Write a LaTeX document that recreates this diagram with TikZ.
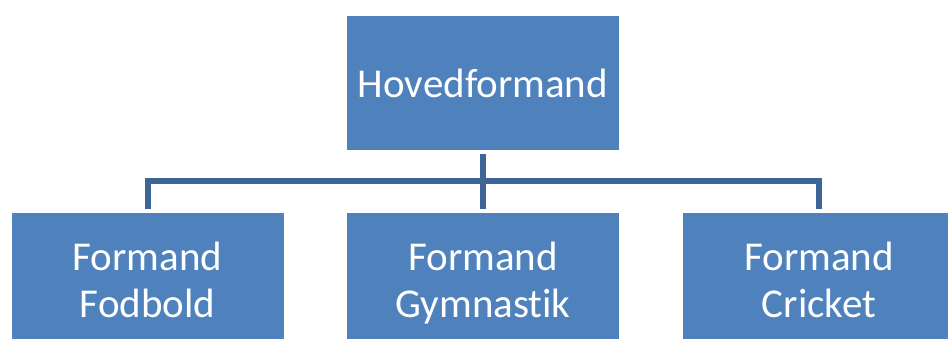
\documentclass[tikz,border=0pt]{standalone}
\usepackage{fontspec}
\setmainfont[Ligatures=NoCommon]{Carlito}
\begin{document}
\begin{tikzpicture}[x=1pt,y=-1pt,
  box/.style={fill=boxblue, draw=none, minimum width=272pt, minimum height=134pt,
    inner sep=0pt, text=white, align=center,
    font=\fontsize{41pt}{47pt}\selectfont},
  lowbox/.style={box, minimum height=144pt},
  conn/.style={draw=connblue, line width=6pt}]
\definecolor{boxblue}{HTML}{4F81BD}
\definecolor{connblue}{HTML}{3D6696}
\clip (0,0) rectangle (948,338);
% head of the chart
\node[box] (top) at (483,83) {Hovedformand};
% the three sections below, running off the lower edge
\node[lowbox] (left)  at (147.5,285) {Formand\strut\\Fodbold\strut};
\node[lowbox] (mid)   at (483,285)   {Formand\strut\\Gymnastik\strut};
\node[lowbox] (right) at (819,285)   {Formand\strut\\Cricket\strut};
% connectors
\coordinate (bar) at (483,181);
\draw[conn] ([yshift=-4pt]top.south) -- ([yshift=4pt]mid.north);
\draw[conn] ([yshift=4pt]left.north) |- (bar) -| ([yshift=4pt]right.north);
\end{tikzpicture}
\end{document}
